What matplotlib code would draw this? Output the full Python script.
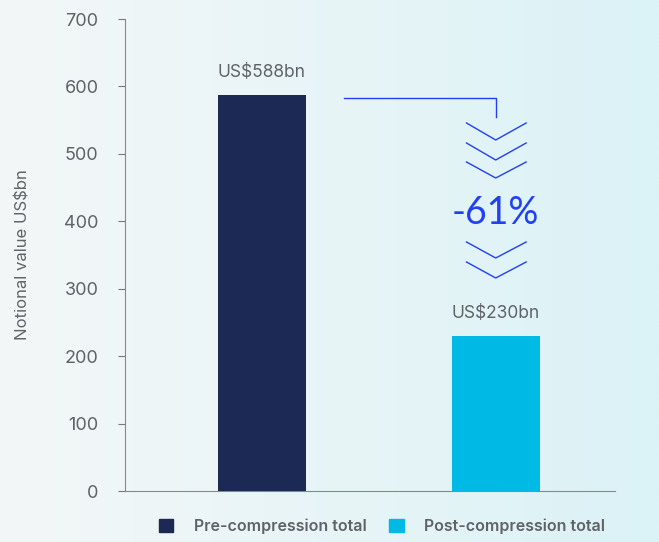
import numpy as np
import matplotlib
matplotlib.use("Agg")
import matplotlib.pyplot as plt
from matplotlib.colors import LinearSegmentedColormap

# data
categories = ["Pre-compression total", "Post-compression total"]
values = [588, 230]
value_labels = ["US$588bn", "US$230bn"]
bar_colors = ["#1b2954", "#00b9e4"]
change_label = "-61%"
y_ticks = [0, 100, 200, 300, 400, 500, 600, 700]

plt.rcParams["font.family"] = ["Inter", "DejaVu Sans"]
grey = "#5f6366"
blue = "#2140f5"

fig = plt.figure(figsize=(6.59, 5.42), dpi=100)

# background gradient
bg = fig.add_axes([0, 0, 1, 1], zorder=-10)
grad = np.linspace(0, 1, 256).reshape(1, -1)
cmap = LinearSegmentedColormap.from_list("bg", ["#f4f7f8", "#dbf2f6"])
bg.imshow(grad, aspect="auto", cmap=cmap, extent=[0, 1, 0, 1])
bg.axis("off")

ax = fig.add_axes([125 / 659, 51 / 542, 490 / 659, 472 / 542])
ax.patch.set_alpha(0)

x = np.arange(len(values))
bars = ax.bar(x, values, width=0.376, color=bar_colors, zorder=3)

ax.set_xlim(-0.585, 1.51)
ax.set_ylim(0, 700)
ax.set_yticks(y_ticks)
ax.set_xticks([])
ax.tick_params(axis="y", colors="#777777", labelcolor=grey, labelsize=13, length=5, pad=14)
for s in ["top", "right"]:
    ax.spines[s].set_visible(False)
ax.spines["left"].set_color("#888888")
ax.spines["bottom"].set_color("#888888")
ax.set_ylabel("Notional value US$bn", color=grey, fontsize=12, labelpad=24)

for xi, v, lab in zip(x, values, value_labels):
    ax.text(xi, v + 20, lab, ha="center", va="bottom", color=grey, fontsize=12.5)

# connector and chevrons
def py(p):
    return (491 - p) / 472 * 700

ax.plot([0.35, 1, 1], [py(98), py(98), py(117)], color=blue, lw=1, zorder=4)
for top, tip in [(123, 140), (143, 160), (162, 178), (242, 258), (262, 278)]:
    ax.plot([0.875, 1, 1.13], [py(top), py(tip), py(top)], color=blue, lw=1, zorder=4)
ax.text(1, py(213), change_label, ha="center", va="center", color=blue,
        fontsize=27, family="Lato", fontweight="normal")

leg = fig.legend(handles=[plt.Rectangle((0, 0), 1, 1, color=c) for c in bar_colors],
                 labels=categories, loc="lower center", bbox_to_anchor=(0.58, -0.012),
                 ncol=2, frameon=False, handlelength=0.9, handleheight=0.9,
                 columnspacing=1.4, handletextpad=1.3, prop={"size": 11.5, "weight": "semibold"})
for t in leg.get_texts():
    t.set_color(grey)

fig.savefig("out.png", dpi=100)
